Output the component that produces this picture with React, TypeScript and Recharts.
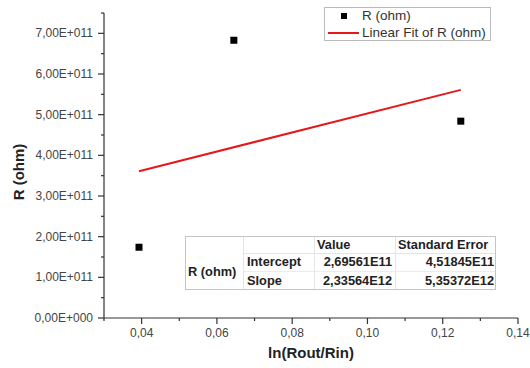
import { ComposedChart, Scatter, XAxis, YAxis } from 'recharts'

// measured points
const lnRatio = [0.0393, 0.0645, 0.1248]
const resistance = [1.74e11, 6.83e11, 4.84e11]

// linear fit, end points
const fitX = [0.0393, 0.1248]
const fitY = [3.61e11, 5.61e11]

const xTicks = [0.03, 0.04, 0.05, 0.06, 0.07, 0.08, 0.09, 0.1, 0.11, 0.12, 0.13, 0.14]
const xMajor = [0.04, 0.06, 0.08, 0.1, 0.12, 0.14]
const yTicks = [0, 0.5e11, 1e11, 1.5e11, 2e11, 2.5e11, 3e11, 3.5e11, 4e11, 4.5e11, 5e11, 5.5e11, 6e11, 6.5e11, 7e11, 7.5e11]
const yMajor = [0, 1e11, 2e11, 3e11, 4e11, 5e11, 6e11, 7e11]

const tableRows = [
    { name: 'Intercept', value: '2,69561E11', error: '4,51845E11' },
    { name: 'Slope', value: '2,33564E12', error: '5,35372E12' },
]

const points = lnRatio.map((x, i) => ({ x, y: resistance[i] }))
const fitLine = fitX.map((x, i) => ({ x, y: fitY[i] }))

const FONT = '"Liberation Sans", Arial, sans-serif'
const AXIS = '#333'

const isMajor = (v: number, list: number[]) => list.some(m => Math.abs(m - v) < 1e-9)

const fmtX = (v: number) => v.toFixed(2).replace('.', ',')
const fmtY = (v: number) => {
    if (v === 0) return '0,00E+000'
    const e = Math.floor(Math.log10(v))
    const m = v / Math.pow(10, e)
    return m.toFixed(2).replace('.', ',') + 'E+' + String(e).padStart(3, '0')
}

const XTick = (props: any) => {
    const { x, y, payload } = props
    const major = isMajor(payload.value, xMajor)
    return (
        <g>
            <line x1={x} x2={x} y1={y} y2={y + (major ? 6 : 3)} stroke={AXIS} strokeWidth={1.2} />
            {major && (
                <text x={x} y={y + 19} textAnchor="middle" fontSize={12} fill="#444" fontFamily={FONT}>
                    {fmtX(payload.value)}
                </text>
            )}
        </g>
    )
}

const YTick = (props: any) => {
    const { x, y, payload } = props
    const major = isMajor(payload.value, yMajor)
    return (
        <g>
            <line x1={x} x2={x - (major ? 6 : 3)} y1={y} y2={y} stroke={AXIS} strokeWidth={1.2} />
            {major && (
                <text x={x - 11} y={y + 4} textAnchor="end" fontSize={12} fill="#444" fontFamily={FONT}>
                    {fmtY(payload.value)}
                </text>
            )}
        </g>
    )
}

const Square = (props: any) => {
    const { cx, cy } = props
    return <rect x={cx - 3.5} y={cy - 3.5} width={7} height={7} fill="#000" />
}

const cell = (left: number, mid: number, text: string, align: 'left' | 'right' = 'left') => (
    <div
        style={{
            position: 'absolute',
            top: mid - 7,
            ...(align === 'left' ? { left } : { right: 530 - left }),
            fontSize: 12.8,
            fontWeight: 'bold',
            color: '#222',
            lineHeight: '14px',
            whiteSpace: 'nowrap',
        }}
    >
        {text}
    </div>
)

export default function App() {
    return (
        <div style={{ position: 'absolute', left: 0, top: 0, width: 530, height: 368, background: '#fff', fontFamily: FONT }}>
            <ComposedChart width={530} height={368} margin={{ top: 13, right: 12, left: 0, bottom: 0 }}>
                <XAxis
                    type="number"
                    dataKey="x"
                    domain={[0.03, 0.14]}
                    ticks={xTicks}
                    interval={0}
                    tickSize={0}
                    tickMargin={0}
                    tick={<XTick />}
                    height={50}
                    stroke={AXIS}
                    strokeWidth={1.2}
                    allowDataOverflow
                />
                <YAxis
                    type="number"
                    dataKey="y"
                    domain={[0, 7.5e11]}
                    ticks={yTicks}
                    interval={0}
                    tickSize={0}
                    tickMargin={0}
                    tick={<YTick />}
                    width={104}
                    stroke={AXIS}
                    strokeWidth={1.2}
                    allowDataOverflow
                />
                <Scatter data={fitLine} line={{ stroke: '#e4181c', strokeWidth: 2 }} shape={() => <g />} isAnimationActive={false} />
                <Scatter data={points} shape={<Square />} isAnimationActive={false} />
            </ComposedChart>

            {/* axis titles */}
            <div
                style={{
                    position: 'absolute',
                    left: 18,
                    top: 172,
                    transform: 'translate(-50%, -50%) rotate(-90deg)',
                    fontSize: 15,
                    fontWeight: 'bold',
                    color: '#222',
                    whiteSpace: 'nowrap',
                }}
            >
                R (ohm)
            </div>
            <div
                style={{
                    position: 'absolute',
                    left: 311,
                    top: 352,
                    transform: 'translate(-50%, -50%)',
                    fontSize: 15,
                    fontWeight: 'bold',
                    color: '#222',
                    whiteSpace: 'nowrap',
                }}
            >
                ln(Rout/Rin)
            </div>

            {/* legend */}
            <div style={{ position: 'absolute', left: 324, top: 7, width: 167, height: 34, border: '1px solid #bbb', boxSizing: 'border-box' }}>
                <div style={{ position: 'absolute', left: 16, top: 5, width: 6, height: 6, background: '#000' }} />
                <div style={{ position: 'absolute', left: 37, top: 0, fontSize: 13.5, lineHeight: '15px', color: '#333', whiteSpace: 'nowrap' }}>R (ohm)</div>
                <div style={{ position: 'absolute', left: 3, top: 24, width: 31, height: 2, background: '#e4181c' }} />
                <div style={{ position: 'absolute', left: 37, top: 17, fontSize: 13.5, lineHeight: '15px', color: '#333', whiteSpace: 'nowrap' }}>Linear Fit of R (ohm)</div>
            </div>

            {/* fit table */}
            <div style={{ position: 'absolute', left: 185, top: 236, width: 311, height: 54, border: '1px solid #c4c4c4', boxSizing: 'border-box', background: '#fff' }} />
            <div style={{ position: 'absolute', left: 243, top: 253, width: 252, height: 1, background: '#e4e4e4' }} />
            <div style={{ position: 'absolute', left: 243, top: 271, width: 252, height: 1, background: '#ececec' }} />
            <div style={{ position: 'absolute', left: 243, top: 237, width: 1, height: 52, background: '#e4e4e4' }} />
            <div style={{ position: 'absolute', left: 314, top: 237, width: 1, height: 52, background: '#e4e4e4' }} />
            <div style={{ position: 'absolute', left: 395, top: 237, width: 1, height: 52, background: '#e4e4e4' }} />
            {cell(317, 245, 'Value')}
            {cell(398, 245, 'Standard Error')}
            {cell(188, 272, 'R (ohm)')}
            {tableRows.map((r, i) => (
                <div key={r.name}>
                    {cell(247, 262 + i * 19, r.name)}
                    {cell(392, 262 + i * 19, r.value, 'right')}
                    {cell(494, 262 + i * 19, r.error, 'right')}
                </div>
            ))}
        </div>
    )
}
